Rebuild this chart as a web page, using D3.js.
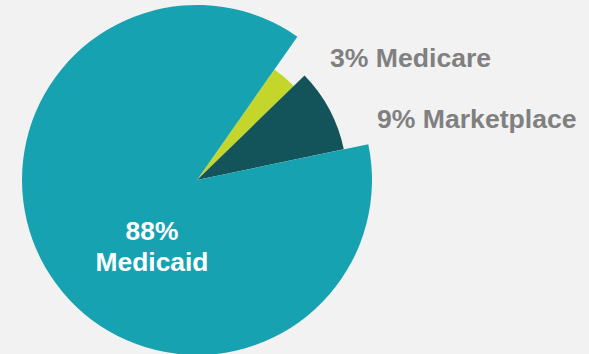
<!DOCTYPE html>
<html lang="en">
<head>
<meta charset="UTF-8">
<title>Coverage</title>
<script src="https://d3js.org/d3.v7.min.js"></script>
<style>
  html, body { margin: 0; padding: 0; background: #f2f2f2; }
  svg { display: block; }
  text { font-family: "Liberation Sans", Arial, sans-serif; font-weight: bold; }
</style>
</head>
<body>
<div id="chart"></div>
<script>
// Datos
const categorias = ["Medicare", "Marketplace", "Medicaid"];
const valores = [3, 9, 88];
const colores = ["#c4d52c", "#125459", "#17a2b2"];
const radios = [135, 150, 175];   // each slice drawn at its own radius
const etiquetas = ["3% Medicare", "9% Marketplace", "88%|Medicaid"];

const width = 589, height = 354;
const cx = 197, cy = 180;

const svg = d3.select("#chart")
  .append("svg")
  .attr("width", width)
  .attr("height", height);

svg.append("rect")
  .attr("width", width)
  .attr("height", height)
  .attr("fill", "#f2f2f2");

const g = svg.append("g")
  .attr("transform", `translate(${cx}, ${cy})`);

const startDeg = 35;
const pie = d3.pie()
  .sort(null)
  .value(d => d)
  .startAngle(startDeg * Math.PI / 180)
  .endAngle((startDeg + 360) * Math.PI / 180);

const arcs = pie(valores);

g.selectAll("path")
  .data(arcs)
  .enter()
  .append("path")
  .attr("d", (d, i) => d3.arc().innerRadius(0).outerRadius(radios[i])(d))
  .attr("fill", (d, i) => colores[i]);

// outside labels
svg.append("text")
  .attr("x", 330)
  .attr("y", 67)
  .attr("font-size", 26.6)
  .attr("fill", "#808080")
  .text(etiquetas[0]);

svg.append("text")
  .attr("x", 377)
  .attr("y", 128)
  .attr("font-size", 26.6)
  .attr("fill", "#808080")
  .text(etiquetas[1]);

// inside label
const lineas = etiquetas[2].split("|");
svg.append("text")
  .attr("x", 152)
  .attr("y", 240)
  .attr("text-anchor", "middle")
  .attr("font-size", 26.4)
  .attr("fill", "#ffffff")
  .selectAll("tspan")
  .data(lineas)
  .enter()
  .append("tspan")
  .attr("x", 152)
  .attr("dy", (d, i) => i === 0 ? 0 : 31)
  .text(d => d);
</script>
</body>
</html>
